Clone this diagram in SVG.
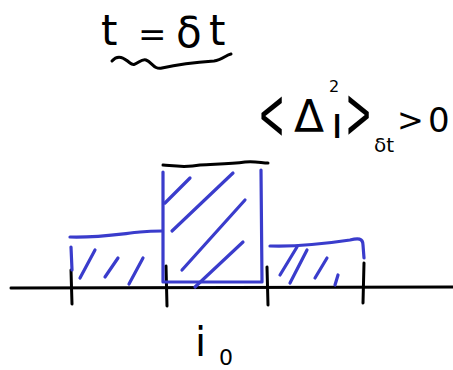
<svg xmlns="http://www.w3.org/2000/svg" width="453" height="370" viewBox="0 0 453 370">
<style>
.k{fill:none;stroke:#000;stroke-width:3;stroke-linecap:round;stroke-linejoin:round}
.b{fill:none;stroke:#3a3ccc;stroke-width:3.2;stroke-linecap:round;stroke-linejoin:round}
.t{font-family:"DejaVu Sans",sans-serif;fill:#000}
</style>
<rect width="453" height="370" fill="#fff"/>
<g id="title">
<text class="t" font-size="42"><tspan x="101" y="45">t</tspan><tspan x="138" y="46" font-size="34">=</tspan><tspan x="176" y="47">δ</tspan><tspan x="209" y="45">t</tspan></text>
<path class="k" d="M112,61 C118,54 124,58 130,63 C136,68 140,58 146,60 C152,62 154,70 162,68 C180,64 200,62 214,61 C222,60 226,55 231,54"/>
</g>
<g id="formula">
<text class="t" font-size="50" transform="translate(258,139) scale(0.65,1.45)">&lt;</text>
<text class="t" font-size="44" x="294" y="132">Δ</text>
<text class="t" font-size="44" x="331" y="138">ı</text>
<text class="t" font-size="16" x="329" y="92">2</text>
<text class="t" font-size="50" transform="translate(345,138) scale(0.65,1.45)">&gt;</text>
<text class="t" font-size="20" x="374" y="152">δt</text>
<text class="t" font-size="32" x="397" y="131">&gt;</text>
<text class="t" font-size="34" x="428" y="132">0</text>
</g>
<g id="axis">
<path class="k" d="M11,288 L453,287"/>
<path class="k" d="M71,270 L72,304"/>
<path class="k" d="M166,266 L167,306"/>
<path class="k" d="M267,267 L268,305"/>
<path class="k" d="M364,263 L363,303"/>
</g>
<g id="center-bin">
<path class="k" d="M163,165 C175,166 185,168 200,165 C215,164 230,164 245,162 C255,161 262,163 268,163"/>
<path class="b" d="M163,172 L163,282 L262,282 L261,170"/>
<path class="b" d="M165,203 L190,178 M172,231 L233,173 M182,270 L245,200 M195,287 L243,242"/>
</g>
<g id="left-bin">
<path class="b" d="M70,237 C95,238 120,234 140,232 C150,231 158,231 162,231"/>
<path class="b" d="M71,247 L72,270 M80,278 L95,250 M105,277 L118,258 M129,284 L143,258"/>
</g>
<g id="right-bin">
<path class="b" d="M270,246 C300,247 330,243 350,240 C358,238 363,238 363,245 L364,258"/>
<path class="b" d="M280,275 L297,247 M290,283 L307,250 M315,278 L327,258 M335,285 L338,275"/>
</g>
<g id="label-i0">
<text class="t" font-size="40"><tspan x="195" y="356">i</tspan><tspan x="219" y="365" font-size="22">0</tspan></text>
</g>
</svg>
